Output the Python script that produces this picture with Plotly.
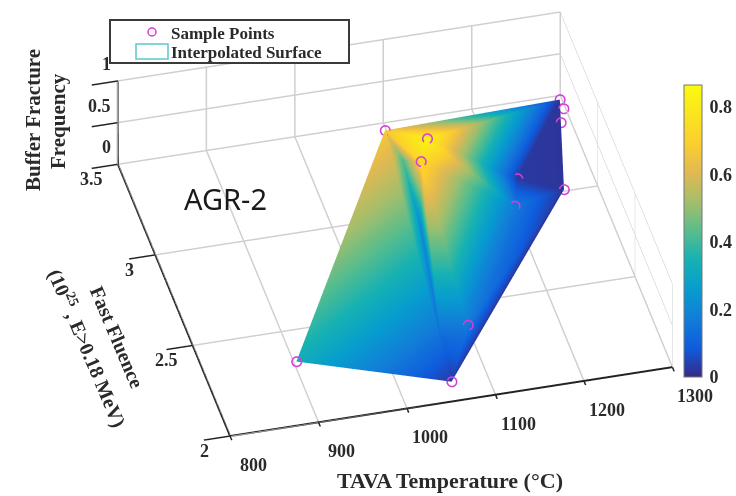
import plotly.graph_objects as go

# Sample points
sample_temp = [891, 1058, 1074, 1109, 1096, 1095, 1197, 1217, 1262, 1297, 1297, 1288]
sample_fluence = [2.19, 2.09, 3.17, 3.02, 2.95, 2.31, 2.89, 3.09, 3.00, 3.47, 3.42, 3.35]
sample_freq = [0.33, 0.03, 0.67, 0.84, 0.74, 0.17, 0.17, 0.03, 0.02, 0.02, 0.02, 0.02]

# Extra surface vertices along the visible valley of the surface
valley_temp = [1089, 1062, 1087]
valley_fluence = [3.11, 2.28, 2.84]
valley_freq = [0.42, 0.12, 0.20]

tri_i = [0, 2, 1, 1, 12, 14, 13, 13, 2, 2, 2, 3, 3, 3, 4, 5, 6, 7, 1]
tri_j = [1, 1, 12, 14, 14, 13, 4, 1, 12, 4, 3, 9, 7, 6, 6, 6, 7, 9, 5]
tri_k = [2, 12, 14, 13, 4, 4, 5, 5, 4, 3, 9, 7, 6, 4, 5, 8, 8, 8, 8]

temp_ticks = [800, 900, 1000, 1100, 1200, 1300]
fluence_ticks = [2, 2.5, 3, 3.5]
freq_ticks = [0, 0.5, 1]
cbar_ticks = [0, 0.2, 0.4, 0.6, 0.8]

parula = [
    [0, "rgb(53,42,135)"], [0.1, "rgb(15,92,221)"], [0.2, "rgb(18,125,216)"],
    [0.3, "rgb(7,156,207)"], [0.4, "rgb(21,177,180)"], [0.5, "rgb(89,189,140)"],
    [0.6, "rgb(165,190,107)"], [0.7, "rgb(225,185,82)"], [0.8, "rgb(252,206,46)"],
    [1, "rgb(249,251,14)"],
]

W, H = 736, 496
SERIF = "Liberation Serif"
DARK = "#2a2a2a"


def px(x):
    return x / W


def py(y):
    return (H - y) / H


fig = go.Figure()
fig.add_trace(go.Mesh3d(
    x=sample_temp + valley_temp,
    y=sample_fluence + valley_fluence,
    z=sample_freq + valley_freq,
    i=tri_i, j=tri_j, k=tri_k,
    intensity=sample_freq + valley_freq,
    colorscale=parula, cmin=0, cmax=0.865,
    lighting=dict(ambient=1, diffuse=0, specular=0, roughness=1, fresnel=0),
    flatshading=False,
    hoverinfo="skip",
    colorbar=dict(
        x=px(684), xanchor="left", y=py(85), yanchor="top",
        xpad=0, ypad=0, thickness=18, thicknessmode="pixels",
        len=292, lenmode="pixels",
        outlinecolor="#777", outlinewidth=1,
        tickvals=cbar_ticks, ticktext=["0", "0.2", "0.4", "0.6", "0.8"],
        ticks="outside", ticklen=4, tickcolor="rgba(0,0,0,0)",
        tickfont=dict(family=SERIF, size=18, color=DARK, weight="bold"),
    ),
))
fig.add_trace(go.Scatter3d(
    x=sample_temp, y=sample_fluence, z=sample_freq,
    mode="markers",
    marker=dict(symbol="circle-open", size=6, color="#d63fd6", line=dict(width=1.5, color="#d63fd6")),
    hoverinfo="skip", showlegend=False,
))

axis_common = dict(
    showbackground=False,
    showgrid=True, gridcolor="#cfcfcf", gridwidth=3,
    showline=True, linecolor="#222", linewidth=4,
    ticks="outside", tickcolor="#222", tickwidth=3,
    showticklabels=False,
    zeroline=False, showspikes=False,
    title=dict(text=""),
)

TICK_FONT = dict(family=SERIF, size=18, color=DARK, weight="bold")
BACK_Y = 3.4999
tick_labels = (
    [dict(x=t, y=2, z=0, text=str(t), xshift=23, yshift=-29, xanchor="center", yanchor="middle",
          showarrow=False, font=TICK_FONT) for t in temp_ticks]
    + [dict(x=800, y=min(f, BACK_Y), z=0, text=f"{f:g}", xshift=-26, yshift=-15, xanchor="center", yanchor="middle",
            showarrow=False, font=TICK_FONT) for f in fluence_ticks]
    + [dict(x=800, y=BACK_Y, z=v, text=f"{v:g}", xshift=-5, yshift=17, xanchor="right", yanchor="middle",
            showarrow=False, font=TICK_FONT) for v in freq_ticks]
)

k = 3.0
cx, cy = -0.1448, -0.1255


def note(text, x, y, size, angle=0, anchor="center", family=SERIF, color=DARK):
    return dict(text=text, x=px(x), y=py(y), xref="paper", yref="paper", xanchor=anchor, yanchor="middle",
                textangle=angle, showarrow=False, font=dict(family=family, size=size, color=color))


fig.update_layout(
    width=W, height=H,
    margin=dict(l=0, r=0, t=0, b=0, autoexpand=False),
    paper_bgcolor="white",
    showlegend=False,
    scene=dict(
        domain=dict(x=[0, 1], y=[0, 1]),
        xaxis=dict(range=[800, 1300], tickvals=temp_ticks, ticklen=27, **axis_common),
        yaxis=dict(range=[2, 3.5], tickvals=fluence_ticks, ticklen=7, **axis_common),
        zaxis=dict(range=[0, 1], tickvals=freq_ticks, ticklen=4, **axis_common),
        aspectmode="manual",
        aspectratio=dict(x=1.84, y=1.84, z=0.426),
        camera=dict(
            projection=dict(type="orthographic"),
            up=dict(x=0, y=0, z=1),
            center=dict(x=cx, y=cy, z=0),
            eye=dict(x=cx - 0.194 * k, y=cy - 0.765 * k, z=0.6145 * k),
        ),
        annotations=tick_labels,
    ),
    shapes=[
        dict(type="rect", xref="paper", yref="paper", x0=px(110), x1=px(349), y0=py(63), y1=py(20),
             fillcolor="white", line=dict(color="#3a3a3a", width=2), layer="above"),
        dict(type="circle", xref="paper", yref="paper", x0=px(148), x1=px(156), y0=py(36), y1=py(28),
             line=dict(color="#d63fd6", width=1.5), layer="above"),
        dict(type="rect", xref="paper", yref="paper", x0=px(136), x1=px(168), y0=py(59), y1=py(44),
             line=dict(color="#5cc8d0", width=1.5), layer="above"),
    ],
    annotations=[
        note("<b>Sample Points</b>", 169, 33, 17, anchor="left"),
        note("<b>Interpolated Surface</b>", 169, 53, 17, anchor="left"),
        note("AGR-2", 226, 198, 29, family="Noto Sans", color="#1a1a1a"),
        note("<b>Buffer Fracture</b>", 33, 120, 21, angle=-90),
        note("<b>Frequency</b>", 58, 121, 21, angle=-90),
        note("<b>Fast Fluence</b>", 117, 337, 20, angle=67),
        note("<b>(10<sup>25</sup> , E&gt;0.18 MeV)</b>", 88, 347, 20, angle=67),
        note("<b>TAVA Temperature (°C)</b>", 450, 480, 22),
    ],
)
fig.write_html("out.html", config={"displayModeBar": False}, post_script="document.body.style.margin='0';")
